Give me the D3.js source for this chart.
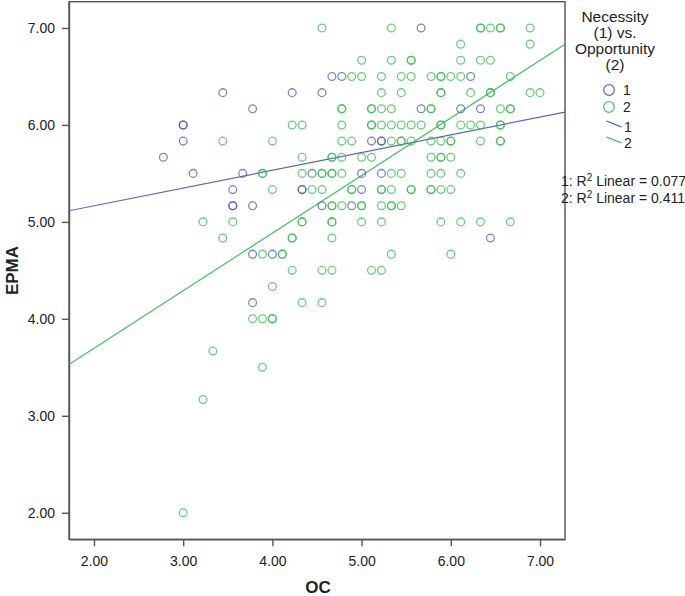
<!DOCTYPE html>
<html>
<head>
<meta charset="utf-8">
<script src="https://cdn.jsdelivr.net/npm/d3@7/dist/d3.min.js"></script>
<style>
  html, body { margin: 0; padding: 0; background: #fff; }
  svg { display: block; font-family: "Liberation Sans", Arial, sans-serif; }
</style>
</head>
<body>
<svg id="chart" width="685" height="596"></svg>
<script>
// ---------------- data ----------------
const groupLabels = ["1", "2"];
const legendTitle = ["Necessity", "(1) vs.", "Opportunity", "(2)"];
const xTicks = [2, 3, 4, 5, 6, 7];
const yTicks = [2, 3, 4, 5, 6, 7];
const xTitle = "OC";
const yTitle = "EPMA";

// Group 1: Necessity
const ocNecessity = [
  3.444, 4.222, 4.556,
  4.667, 4.778, 6.222,
  5.667,
  3.778, 5.667, 6.111, 6.333,
  3.0, 3.0,
  3.0, 5.111, 5.222, 5.222,
  2.778,
  3.111, 3.667, 4.444, 5.0, 5.222,
  3.556, 4.333, 4.333, 5.0,
  3.556, 3.556, 3.778, 4.556, 4.889,
  6.444,
  3.778, 4.0,
  3.778
];
const epmaNecessity = [
  6.333, 6.333, 6.333,
  6.5, 6.5, 6.5,
  7.0,
  6.167, 6.167, 6.167, 6.167,
  6.0, 6.0,
  5.833, 5.833, 5.833, 5.833,
  5.667,
  5.5, 5.5, 5.5, 5.5, 5.5,
  5.333, 5.333, 5.333, 5.333,
  5.167, 5.167, 5.167, 5.167, 5.167,
  4.833,
  4.667, 4.667,
  4.167
];

// Group 2: Opportunity
const ocOpportunity = [
  4.556, 5.333, 6.333, 6.333, 6.444, 6.556, 6.556, 6.889,
  6.111, 6.889,
  5.0, 5.333, 5.556, 5.556, 6.111, 6.333, 6.444,
  4.889, 5.0, 5.222, 5.444, 5.556, 5.778, 5.889, 5.889, 6.0, 6.111, 6.667,
  5.222, 5.444, 5.889, 5.889, 6.222, 6.444, 6.444, 6.889, 7.0,
  4.778, 4.778, 5.111, 5.111, 5.222, 5.333, 5.778, 5.778, 6.556, 6.667, 6.667,
  4.222, 4.333, 4.778, 5.111, 5.111, 5.222, 5.333, 5.444, 5.556, 5.667, 5.889, 5.889, 6.111, 6.222, 6.333, 6.556, 6.556,
  3.444, 4.0, 4.778, 4.889, 5.333, 5.444, 5.444, 5.556, 5.778, 5.889, 6.0, 6.0, 6.333, 6.556, 6.556,
  4.333, 4.667, 4.667, 4.778, 5.0, 5.111, 5.778, 5.889, 5.889, 6.0,
  3.889, 3.889, 4.333, 4.556, 4.556, 4.667, 4.667, 4.778, 5.333, 5.444, 5.778, 5.889, 6.111,
  4.0, 4.444, 4.556, 4.889, 4.889, 5.222, 5.222, 5.333, 5.556, 5.556, 5.778, 5.778, 5.889, 6.0,
  4.667, 4.667, 4.778, 5.0, 5.0, 5.222, 5.333, 5.333, 5.444,
  3.222, 3.556, 4.333, 4.333, 4.667, 4.667, 5.0, 5.222, 5.889, 6.111, 6.333, 6.667,
  3.444, 4.222, 4.222, 4.667,
  3.889, 4.111, 4.111, 5.333, 6.0,
  4.222, 4.556, 4.667, 5.111, 5.222,
  4.0,
  4.333, 4.556,
  3.778, 3.889, 4.0, 4.0,
  3.333,
  3.889,
  3.222,
  3.0
];
const epmaOpportunity = [
  7.0, 7.0, 7.0, 7.0, 7.0, 7.0, 7.0, 7.0,
  6.833, 6.833,
  6.667, 6.667, 6.667, 6.667, 6.667, 6.667, 6.667,
  6.5, 6.5, 6.5, 6.5, 6.5, 6.5, 6.5, 6.5, 6.5, 6.5, 6.5,
  6.333, 6.333, 6.333, 6.333, 6.333, 6.333, 6.333, 6.333, 6.333,
  6.167, 6.167, 6.167, 6.167, 6.167, 6.167, 6.167, 6.167, 6.167, 6.167, 6.167,
  6.0, 6.0, 6.0, 6.0, 6.0, 6.0, 6.0, 6.0, 6.0, 6.0, 6.0, 6.0, 6.0, 6.0, 6.0, 6.0, 6.0,
  5.833, 5.833, 5.833, 5.833, 5.833, 5.833, 5.833, 5.833, 5.833, 5.833, 5.833, 5.833, 5.833, 5.833, 5.833,
  5.667, 5.667, 5.667, 5.667, 5.667, 5.667, 5.667, 5.667, 5.667, 5.667,
  5.5, 5.5, 5.5, 5.5, 5.5, 5.5, 5.5, 5.5, 5.5, 5.5, 5.5, 5.5, 5.5,
  5.333, 5.333, 5.333, 5.333, 5.333, 5.333, 5.333, 5.333, 5.333, 5.333, 5.333, 5.333, 5.333, 5.333,
  5.167, 5.167, 5.167, 5.167, 5.167, 5.167, 5.167, 5.167, 5.167,
  5.0, 5.0, 5.0, 5.0, 5.0, 5.0, 5.0, 5.0, 5.0, 5.0, 5.0, 5.0,
  4.833, 4.833, 4.833, 4.833,
  4.667, 4.667, 4.667, 4.667, 4.667,
  4.5, 4.5, 4.5, 4.5, 4.5,
  4.333,
  4.167, 4.167,
  4.0, 4.0, 4.0, 4.0,
  3.667,
  3.5,
  3.167,
  2.0
];

// Linear fit lines and R² values
const fitIntercepts = [4.80, 2.508];
const fitSlopes = [0.183, 0.594];
const rSquared = [0.077, 0.411];

// ---------------- drawing ----------------
const colors = ["#4459b2", "#33b84c"];
const svg = d3.select("#chart");

const x = d3.scaleLinear().domain([1.72, 7.28]).range([69, 565]);
const y = d3.scaleLinear().domain([1.726, 7.271]).range([539.3, 1.7]);

const axisColor = "#555";

// plot frame
svg.append("rect")
  .attr("x", x.range()[0]).attr("y", y.range()[1])
  .attr("width", x.range()[1] - x.range()[0])
  .attr("height", y.range()[0] - y.range()[1])
  .attr("fill", "none").attr("stroke", axisColor).attr("stroke-width", 1.4);

// axes
const gy = svg.append("g")
  .attr("transform", `translate(${x.range()[0]},0)`)
  .call(d3.axisLeft(y).tickValues(yTicks).tickFormat(d3.format(".2f"))
        .tickSize(7).tickSizeOuter(0).tickPadding(7));
const gx = svg.append("g")
  .attr("transform", `translate(0,${y.range()[0]})`)
  .call(d3.axisBottom(x).tickValues(xTicks).tickFormat(d3.format(".2f"))
        .tickSize(7).tickSizeOuter(0).tickPadding(10));
[gx, gy].forEach(g => {
  g.select(".domain").attr("stroke", axisColor).attr("stroke-width", 1.4);
  g.selectAll(".tick line").attr("stroke", axisColor).attr("stroke-width", 1.4);
  g.selectAll(".tick text").attr("fill", "#222")
    .style("font-size", "14px").style("font-family", '"Liberation Sans", Arial, sans-serif');
});

// axis titles
svg.append("text")
  .attr("transform", `translate(18,${(y.range()[0] + y.range()[1]) / 2})rotate(-90)`)
  .attr("text-anchor", "middle").attr("font-weight", "bold")
  .attr("font-size", 17).attr("fill", "#222").text(yTitle);
svg.append("text")
  .attr("x", (x.range()[0] + x.range()[1]) / 2 + 1).attr("y", 593)
  .attr("text-anchor", "middle").attr("font-weight", "bold")
  .attr("font-size", 17).attr("fill", "#222").text(xTitle);

// clip for plot area
svg.append("clipPath").attr("id", "plotclip")
  .append("rect")
  .attr("x", x.range()[0]).attr("y", y.range()[1])
  .attr("width", x.range()[1] - x.range()[0])
  .attr("height", y.range()[0] - y.range()[1]);

const plot = svg.append("g").attr("clip-path", "url(#plotclip)");

const groups = [
  { oc: ocOpportunity, epma: epmaOpportunity, color: colors[1] },
  { oc: ocNecessity, epma: epmaNecessity, color: colors[0] }
];

// fit lines
const [x0, x1] = x.domain();
[0, 1].forEach(i => {
  plot.append("line")
    .attr("x1", x(x0)).attr("y1", y(fitIntercepts[i] + fitSlopes[i] * x0))
    .attr("x2", x(x1)).attr("y2", y(fitIntercepts[i] + fitSlopes[i] * x1))
    .attr("stroke", colors[i]).attr("stroke-width", 1.2).attr("stroke-opacity", 0.9);
});

// points
groups.forEach(gr => {
  plot.append("g").selectAll("circle")
    .data(gr.oc.map((v, i) => [v, gr.epma[i]]))
    .join("circle")
    .attr("cx", d => x(d[0])).attr("cy", d => y(d[1]))
    .attr("r", 3.9)
    .attr("fill", "none")
    .attr("stroke", gr.color)
    .attr("stroke-width", 1.3)
    .attr("stroke-opacity", 0.72);
});

// legend
const lg = svg.append("g");
legendTitle.forEach((t, i) => {
  lg.append("text").attr("x", 615).attr("y", 22 + i * 16)
    .attr("text-anchor", "middle").attr("font-size", 15.5).attr("fill", "#222").text(t);
});
[0, 1].forEach(i => {
  lg.append("circle").attr("cx", 609).attr("cy", 90 + i * 17).attr("r", 5.3)
    .attr("fill", "none").attr("stroke", colors[i]).attr("stroke-width", 1.3).attr("stroke-opacity", 0.85);
  lg.append("text").attr("x", 623).attr("y", 95 + i * 17)
    .attr("font-size", 14).attr("fill", "#222").text(groupLabels[i]);
  lg.append("line")
    .attr("x1", 606.5).attr("y1", 121 + i * 16)
    .attr("x2", 621.5).attr("y2", 127 + i * 16)
    .attr("stroke", colors[i]).attr("stroke-width", 1.2);
  lg.append("text").attr("x", 624).attr("y", 132 + i * 16)
    .attr("font-size", 14).attr("fill", "#222").text(groupLabels[i]);
});

// R² annotations
[0, 1].forEach(i => {
  const t = svg.append("text").attr("x", 561).attr("y", 186 + i * 17)
    .attr("font-size", 14).attr("fill", "#222");
  t.append("tspan").text(`${groupLabels[i]}: R`);
  t.append("tspan").attr("dy", -5).attr("font-size", 10).text("2");
  t.append("tspan").attr("dy", 5).text(` Linear = ${rSquared[i].toFixed(3)}`);
});
</script>
</body>
</html>
